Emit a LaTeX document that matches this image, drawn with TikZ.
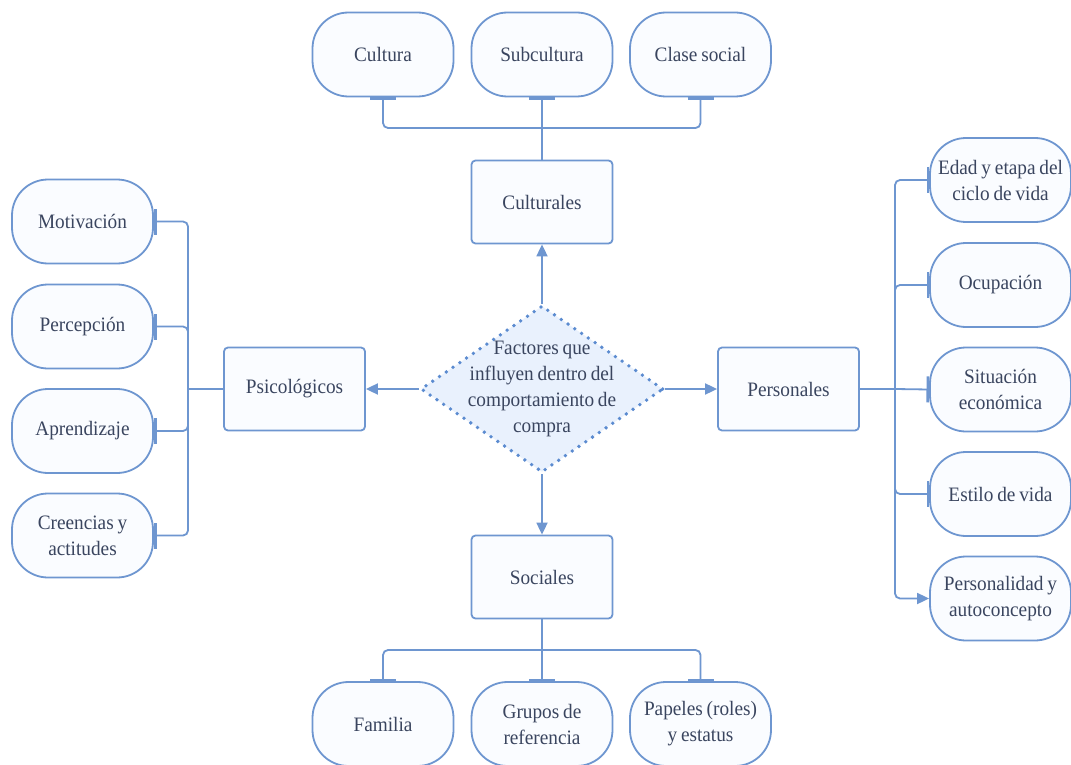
\documentclass[tikz,border=0pt]{standalone}
\usepackage{fontspec}
\setmainfont[FakeStretch=0.94,WordSpace=0.8]{Liberation Serif}
\usetikzlibrary{arrows.meta,shapes.geometric}

\definecolor{linec}{HTML}{6E96D0}
\definecolor{textc}{HTML}{3A455F}
\definecolor{leaffill}{HTML}{FAFCFF}
\definecolor{diafill}{HTML}{E9F1FD}
\definecolor{dotc}{HTML}{5B8BD0}

\tikzset{
  lbl/.style={text=textc, font=\fontsize{20.5}{26}\selectfont, align=center},
  leaf/.style={lbl, draw=linec, line width=1.8pt, fill=leaffill,
    rounded corners=36pt, minimum width=141pt, minimum height=84pt, inner sep=2pt},
  catbox/.style={lbl, draw=linec, line width=1.8pt, fill=leaffill,
    rounded corners=4pt, minimum width=141pt, minimum height=83pt},
  hub/.style={diamond, draw=dotc, fill=diafill, line width=3.8pt,
    dash pattern=on 0pt off 8.2pt, line cap=round,
    minimum width=243pt, minimum height=167pt, inner sep=0pt},
  link/.style={draw=linec, line width=1.8pt, rounded corners=5pt},
  tee/.style={-{Bar[width=26pt,line width=2.6pt]}},
  push/.style={draw=linec, line width=1.8pt, -{Triangle[length=12pt,width=11pt]}},
  endarrow/.style={-{Triangle[length=12pt,width=11pt]}}
}

\begin{document}
\begin{tikzpicture}[x=1pt,y=-1pt]
  \fill[white] (0,0) rectangle (1071,765);
  \useasboundingbox (0,0) rectangle (1071,765);

  % central decision shape
  \node[hub] (fac) at (542,389) {};
  \node[lbl] (factxt) at (fac.center) {Factores que\\influyen dentro del\\comportamiento de\\compra};

  % four factor groups
  \node[catbox] (cul) at (542,202) {Culturales};
  \node[catbox] (soc) at (542,577) {Sociales};
  \node[catbox] (psi) at (294.5,389) {Psicológicos};
  \node[catbox] (per) at (788.5,389) {Personales};

  % cultural items
  \node[leaf] (cultura) at (383,54.5) {Cultura};
  \node[leaf] (subcul) at (542,54.5) {Subcultura};
  \node[leaf] (clase) at (700.5,54.5) {Clase social};

  % social items
  \node[leaf] (familia) at (383,724) {Familia};
  \node[leaf] (grupos) at (542,724) {Grupos de\\referencia};
  \node[leaf] (papeles) at (700.5,724) {Papeles (roles)\\y estatus};

  % psychological items
  \node[leaf] (motiv) at (82.5,221.5) {Motivación};
  \node[leaf] (percep) at (82.5,326.5) {Percepción};
  \node[leaf] (aprend) at (82.5,431) {Aprendizaje};
  \node[leaf] (creen) at (82.5,535.5) {Creencias y\\actitudes};

  % personal items
  \node[leaf] (edad) at (1000.5,180) {Edad y etapa del\\ciclo de vida};
  \node[leaf] (ocup) at (1000.5,285) {Ocupación};
  \node[leaf] (situ) at (1000.5,389.5) {Situación\\económica};
  \node[leaf] (estilo) at (1000.5,494) {Estilo de vida};
  \node[leaf] (perso) at (1000.5,598.5) {Personalidad y\\autoconcepto};

  % bus junctions
  \coordinate (busT) at (542,128);
  \coordinate (busB) at (542,650);
  \coordinate (busL) at (188,389);
  \coordinate (busR) at (895,389);

  % hub to groups
  \draw[push] (fac.north) -- (cul.south);
  \draw[push] (fac.south) -- (soc.north);
  \draw[push] (fac.west) -- (psi.east);
  \draw[push] (fac.east) -- (per.west);

  % cultural branches
  \draw[link] (cul.north) -- (busT);
  \draw[link,tee] (busT) -| (cultura.south);
  \draw[link,tee] (busT) -- (subcul.south);
  \draw[link,tee] (busT) -| (clase.south);

  % social branches
  \draw[link] (soc.south) -- (busB);
  \draw[link,tee] (busB) -| (familia.north);
  \draw[link,tee] (busB) -- (grupos.north);
  \draw[link,tee] (busB) -| (papeles.north);

  % psychological branches
  \draw[link] (psi.west) -- (busL);
  \draw[link,tee] (busL) |- (motiv.east);
  \draw[link,tee] (busL) |- (percep.east);
  \draw[link,tee] (busL) |- (aprend.east);
  \draw[link,tee] (busL) |- (creen.east);

  % personal branches
  \draw[link] (per.east) -- (busR);
  \draw[link,tee] (busR) |- (edad.west);
  \draw[link,tee] (busR) |- (ocup.west);
  \draw[link,tee] (busR) -- (situ.west);
  \draw[link,tee] (busR) |- (estilo.west);
  \draw[link,endarrow] (busR) |- (perso.west);
\end{tikzpicture}
\end{document}
